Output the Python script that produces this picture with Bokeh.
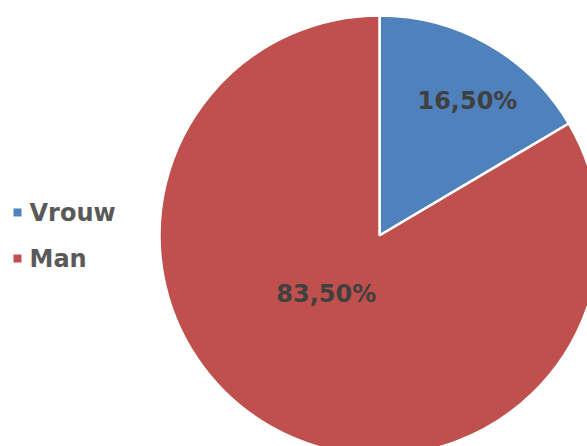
import numpy as np
from bokeh.plotting import figure
from bokeh.models import ColumnDataSource, Range1d
from bokeh.embed import file_html
from bokeh.resources import INLINE
from bokeh.core.properties import value

categories = ["Vrouw", "Man"]
shares = [16.5, 83.5]
labels = ["16,50%", "83,50%"]
colors = ["#4F81BD", "#C0504D"]

W, H = 587, 446
cx, cy, R = 379, H - 235, 220

frac = np.array(shares) / sum(shares)
ends = np.cumsum(frac) * 2 * np.pi
starts = ends - frac * 2 * np.pi
start_angle = np.pi / 2 - starts
end_angle = np.pi / 2 - ends

p = figure(width=W, height=H, x_range=Range1d(0, W), y_range=Range1d(0, H),
           output_backend="svg", toolbar_location=None, min_border=0)
p.axis.visible = False
p.grid.visible = False
p.outline_line_color = None
p.background_fill_color = "white"
p.border_fill_color = "white"

src = ColumnDataSource(dict(cat=categories, sa=start_angle, ea=end_angle, color=colors))
p.wedge(x=cx, y=cy, radius=R, start_angle="sa", end_angle="ea", direction="clock",
        fill_color="color", line_color="white", line_width=2.5, source=src)

# data labels (Excel-like placement)
mid = (starts + ends) / 2
label_r = [161, 79]
label_shift = [3.4, 12.7]
lx = [cx + r * np.sin(m + np.radians(s)) for r, m, s in zip(label_r, mid, label_shift)]
ly = [cy + r * np.cos(m + np.radians(s)) for r, m, s in zip(label_r, mid, label_shift)]
p.text(x=lx, y=ly, text=labels, text_align="center", text_baseline="middle",
       text_font=value("DejaVu Sans"), text_font_style="bold",
       text_font_size="24px", text_color="#404040")

# legend
leg_y = [H - 212, H - 258]
p.scatter(x=[17] * 2, y=leg_y, marker="square", size=8, fill_color=colors, line_color=None)
p.text(x=[29] * 2, y=leg_y, text=categories, text_align="left", text_baseline="middle",
       text_font=value("DejaVu Sans"), text_font_style="bold",
       text_font_size="24px", text_color="#595959")

open("out.html", "w").write(file_html(p, INLINE))
